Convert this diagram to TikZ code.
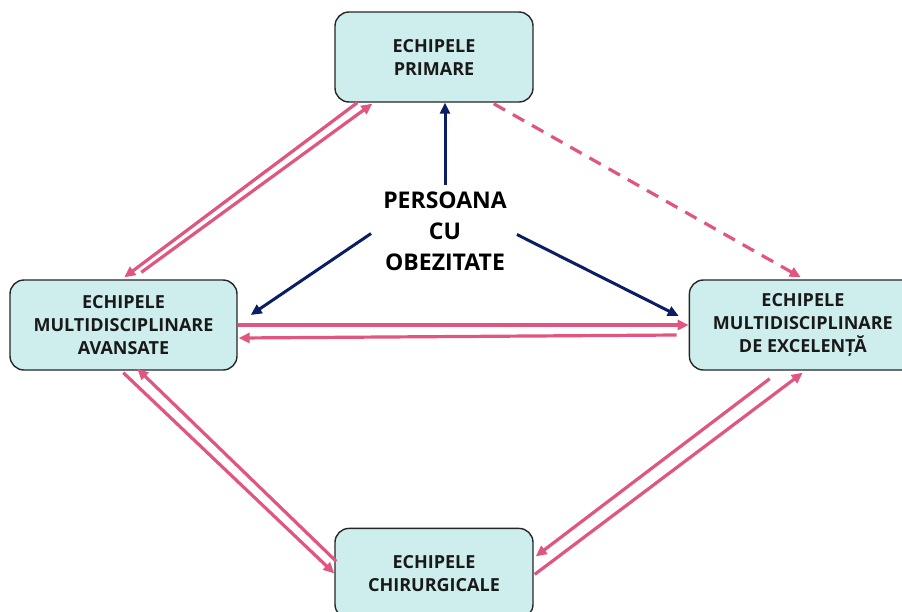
\documentclass[tikz,border=0pt]{standalone}
\usepackage{fontspec}
\setmainfont{Open Sans}
\usetikzlibrary{positioning, arrows.meta}

\definecolor{boxfill}{HTML}{CDEEEC}
\definecolor{linkpink}{HTML}{E05680}
\definecolor{navyblue}{HTML}{0B1E64}

\tikzset{
  team/.style={draw=black!85, line width=1.4pt, fill=boxfill, rounded corners=14pt,
    minimum height=90pt, align=center, text=black!90,
    font=\fontsize{18}{23}\selectfont\bfseries},
  link/.style={linkpink, line width=3.2pt, -{Triangle[length=11pt,width=10pt]}},
  core/.style={navyblue, line width=3pt, -{Triangle[length=11pt,width=10pt]}},
}

\begin{document}
\begin{tikzpicture}[x=1pt, y=1pt]
            \useasboundingbox (0,0) rectangle (902,-611);

            \node [team, minimum width=198pt] (prim) at (434,-57) {ECHIPELE\\PRIMARE};
            \node [team, minimum width=227pt] (avans) at (123.5,-325) {ECHIPELE\\MULTIDISCIPLINARE\\AVANSATE};
            \node [team, minimum width=227pt, right=451pt of avans] (excel) {ECHIPELE\\MULTIDISCIPLINARE\\DE EXCELENȚĂ};
            \node [team, minimum width=198pt, below=425pt of prim] (chir) {ECHIPELE\\CHIRURGICALE};
            \node [align=center, inner sep=0pt, font=\fontsize{23}{31}\selectfont\bfseries] (pers) at (445,-231.5) {PERSOANA\\CU\\OBEZITATE};

            % primare <-> avansate
            \draw [link] ([xshift=23pt]prim.south west) -- ([xshift=115pt,yshift=2pt]avans.north west);
            \draw [link] ([xshift=132pt,yshift=7pt]avans.north west) -- ([xshift=38pt,yshift=-1pt]prim.south west);
            % avansate <-> excelenta
            \draw [link] (avans.east) -- (excel.west);
            \draw [link] ([xshift=-12pt,yshift=-10pt]excel.west) -- ([xshift=1pt,yshift=-13pt]avans.east);
            % avansate <-> chirurgicale
            \draw [link] ([xshift=114pt,yshift=-2pt]avans.south west) -- (chir.west);
            \draw [link] ([xshift=2pt,yshift=12pt]chir.west) -- ([xshift=128pt,yshift=2pt]avans.south west);
            % excelenta <-> chirurgicale
            \draw [link] ([xshift=81pt,yshift=-8pt]excel.south west) -- ([xshift=2pt,yshift=17pt]chir.east);
            \draw [link] ([xshift=1pt,yshift=-1pt]chir.east) -- ([xshift=114pt,yshift=-2pt]excel.south west);
            % primare -> excelenta
            \draw [link, dash pattern=on 13pt off 9pt] ([xshift=-40pt,yshift=-1pt]prim.south east) -- ([xshift=112pt,yshift=2pt]excel.north west);

            % persoana -> echipe
            \draw [core] ([yshift=7pt]pers.north) -- (pers.north |- prim.south);
            \draw [core] ([xshift=-12pt,yshift=-2pt]pers.west) -- ([xshift=13pt,yshift=10pt]avans.east);
            \draw [core] ([xshift=10pt,yshift=-3pt]pers.east) -- ([xshift=-10pt,yshift=9pt]excel.west);
          \end{tikzpicture}
\end{document}
